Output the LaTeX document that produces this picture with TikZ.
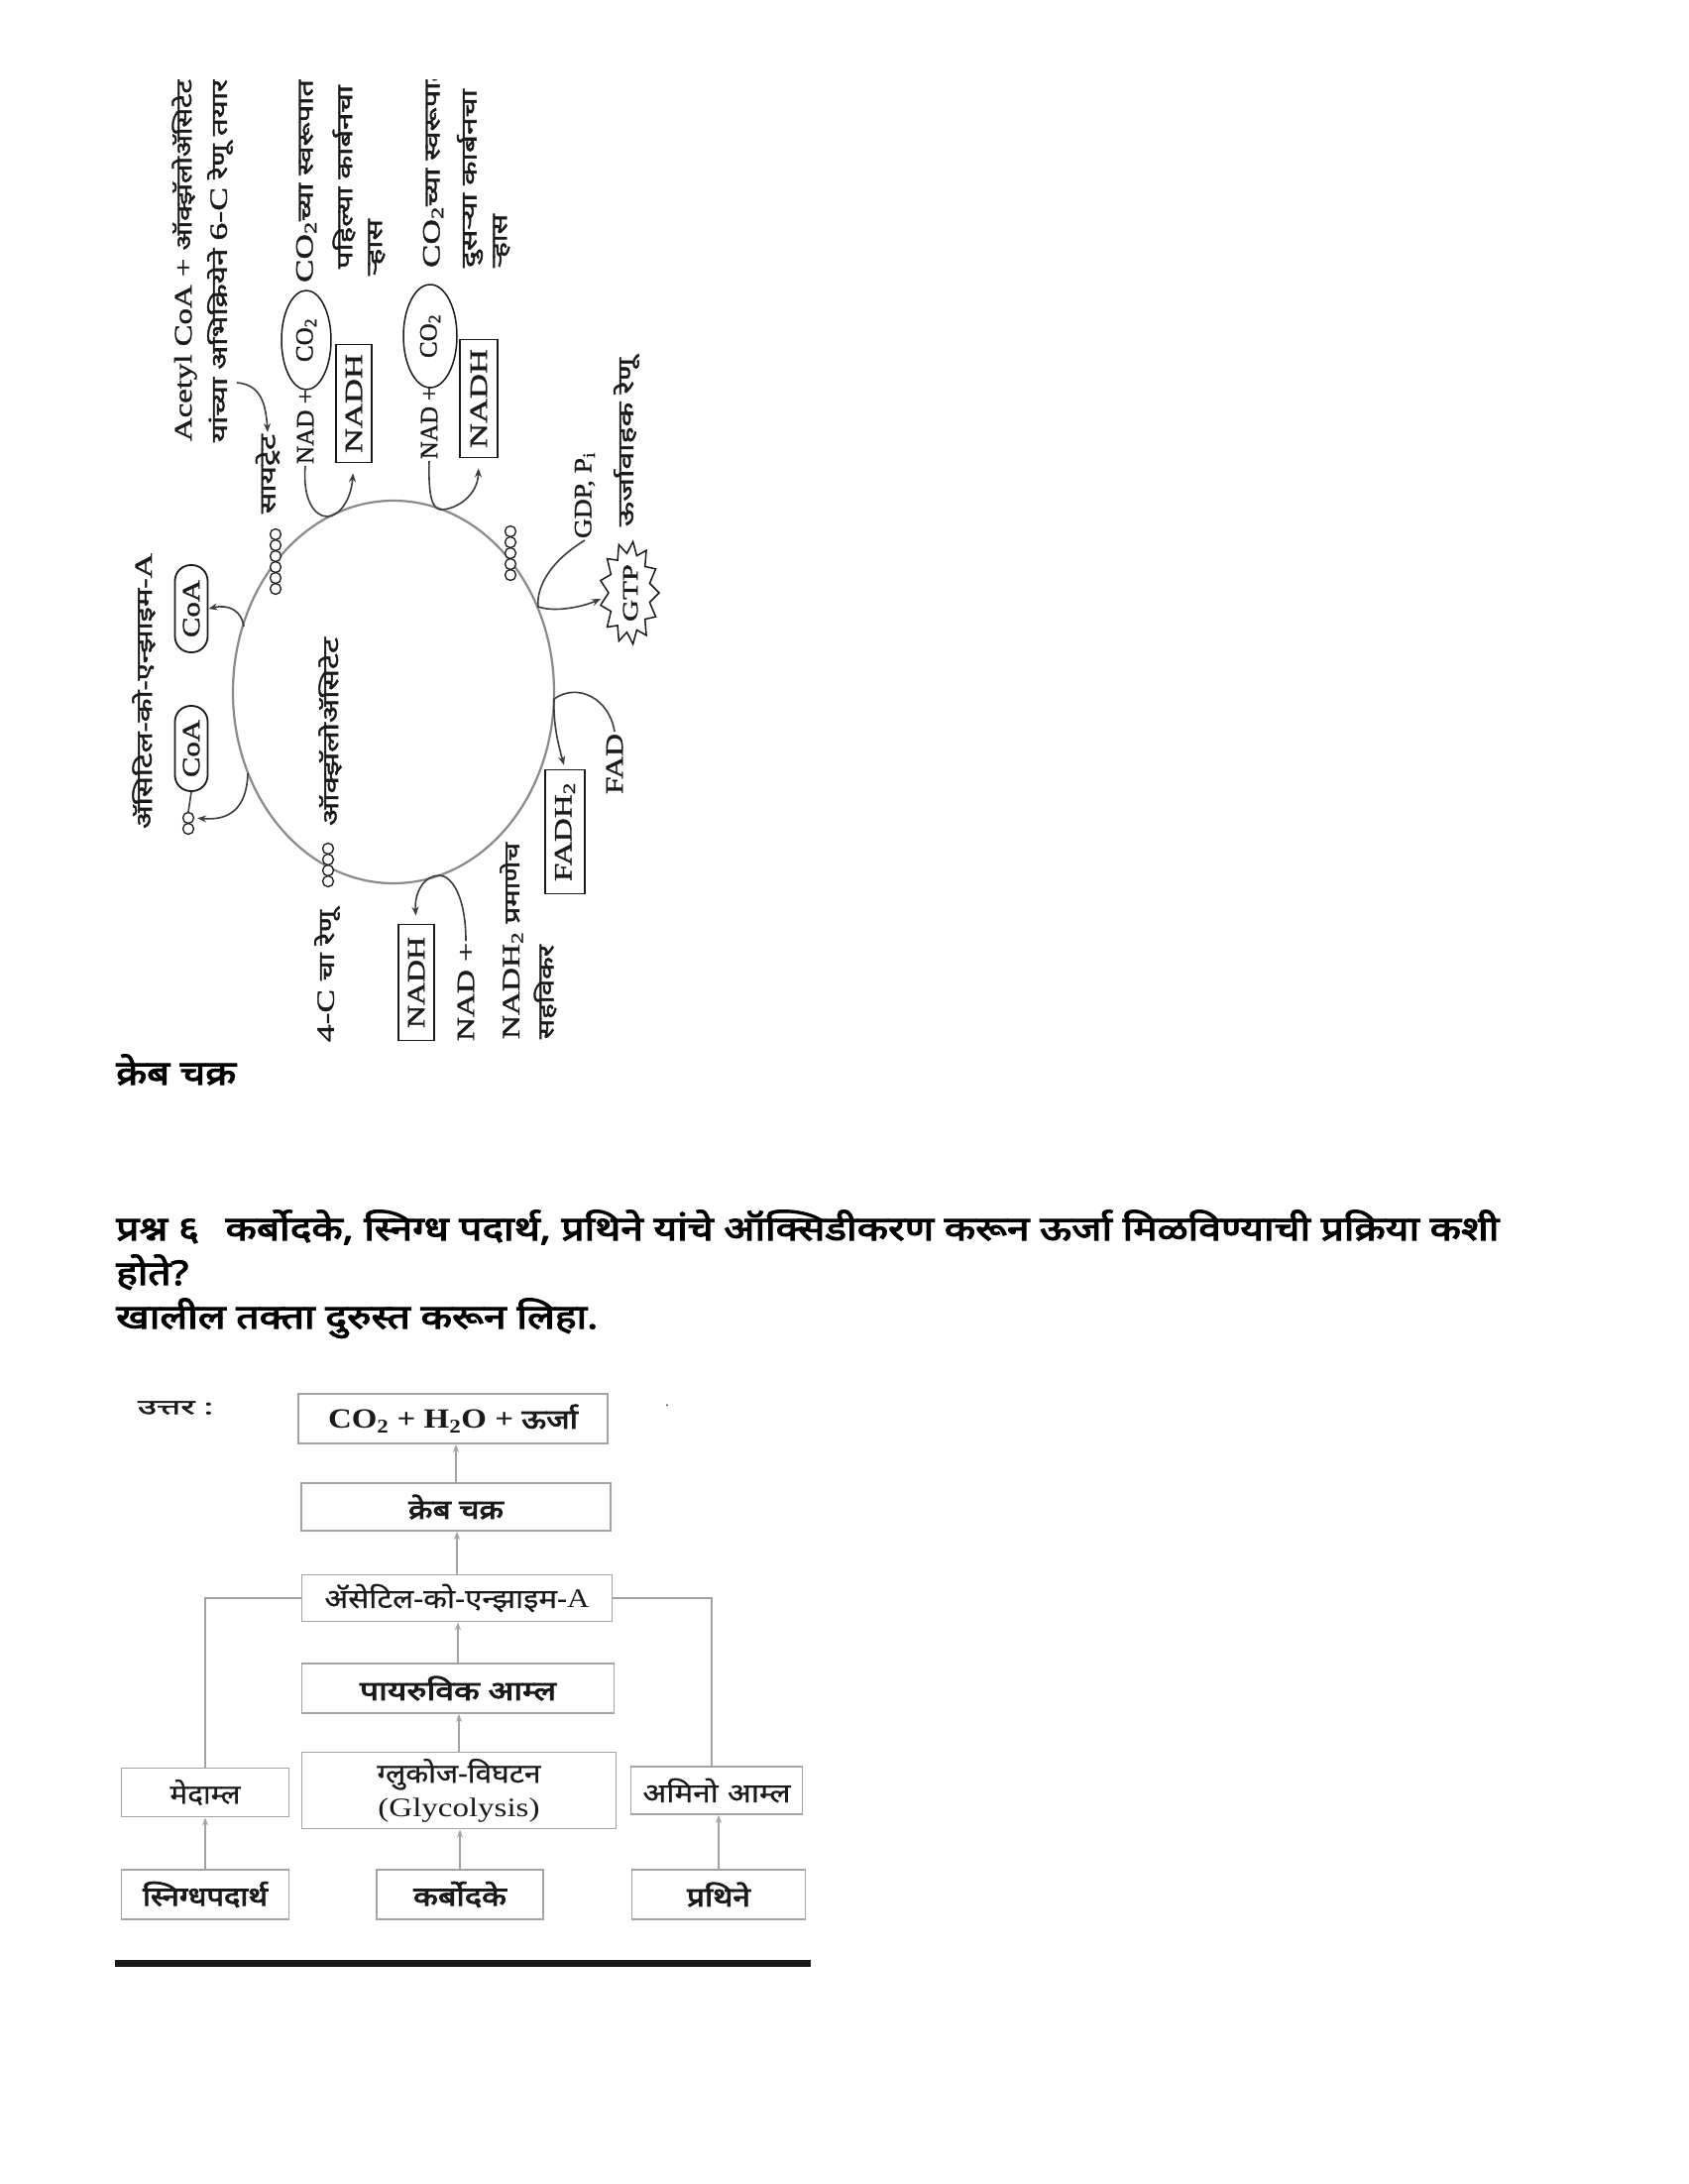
\documentclass[tikz,border=0pt]{standalone}
\usepackage{fontspec}
\usepackage{graphicx}
\setmainfont{Liberation Serif}
\newfontfamily\dev[Script=Devanagari, FakeBold=0.6]{Noto Sans}
\newfontfamily\devm[Script=Devanagari, FakeBold=1.8]{Noto Sans}
\newfontfamily\devb[Script=Devanagari, FakeBold=3]{Noto Sans}
\newfontfamily\lat{Liberation Serif}
\newfontfamily\latm[FakeBold=1.2]{Liberation Serif}
\usetikzlibrary{arrows.meta,shapes.geometric,calc}
\definecolor{ink}{HTML}{1A1A1A}
\definecolor{cgray}{HTML}{8A8A8A}
\definecolor{fgray}{HTML}{A3A3A3}
\newcommand\fitw[2]{\resizebox{#1pt}{\height}{#2}}
\newcommand\cl{\latm\fontsize{25}{28}\selectfont}
\newcommand\cd{\devm\fontsize{22}{24}\selectfont}
\newcommand\fl{\lat\fontsize{27}{30}\selectfont}
\newcommand\flb{\lat\bfseries\fontsize{28}{30}\selectfont}
\newcommand\fd{\dev\fontsize{27}{30}\selectfont}
\newcommand\fdb{\devb\fontsize{27}{30}\selectfont}
\newcommand\qf{\devb\fontsize{34}{38}\selectfont}
\tikzset{
  rt/.style={rotate=90, anchor=west, inner sep=0pt, outer sep=2pt, text=ink},
  rbox/.style={draw=ink, line width=1.8pt, rotate=90, inner sep=0pt, text=ink},
  arr/.style={draw=ink!85, line width=1.6pt, -{Stealth[length=9pt,width=7pt]}},
  plainc/.style={draw=ink!85, line width=1.6pt},
  bead/.style={circle, draw=ink, line width=1.3pt, fill=white, minimum size=11pt, inner sep=0pt},
  fbox/.style={draw=fgray, line width=1.8pt, inner sep=0pt, text=ink},
  farr/.style={draw=fgray, line width=1.4pt, -{Stealth[length=8pt,width=6pt]}},
  fline/.style={draw=fgray, line width=1.4pt},
}
\begin{document}
\begin{tikzpicture}[x=1pt,y=-1pt]
\useasboundingbox (0,0) rectangle (1703,2203);
\fill[white] (0,0) rectangle (1703,2203);

\begin{scope}
\clip (0,80) rectangle (1703,1110);
% cycle
\draw[cgray, line width=2.2pt] (397,698) ellipse [x radius=162pt, y radius=193pt];
\coordinate (jN1) at (330,521);
\coordinate (jN2) at (445,514);
\coordinate (jG) at (543,612);
\coordinate (jF) at (559,705);
\coordinate (jN3) at (443,883);
\coordinate (jC1) at (246,632);
\coordinate (jC2) at (250,780);
\coordinate (acs) at (239,386);
\coordinate (gtpL) at (606,604);

% texts
\node[rt] (t1) at (186,447) {\fitw{365}{\cl Acetyl CoA + {\cd ऑक्झॅलोॲसिटेट}}};
\node[rt] (t2) at (222,448) {\fitw{366}{\cd यांच्या अभिक्रियेने {\cl 6-C} रेणू तयार}};
\node[rt] (sit) at (270,520) {\fitw{80}{\cd सायट्रेट}};
\node[rt] (nad1) at (308,470) {\fitw{75}{\cl NAD +}};
\node[rbox, ellipse, line width=1.5pt, minimum width=100pt, minimum height=50pt] (co2a) at (309,343) {\cl CO\textsubscript{2}};
\node[rt] (co2ta) at (309,287) {\fitw{205}{\cl CO\textsubscript{2}{\cd च्या स्वरूपात}}};
\node[rbox, minimum width=119pt, minimum height=36pt] (nadh1) at (357,407) {\fitw{100}{\cl NADH}};
\node[rt] (pah) at (347,273) {\fitw{185}{\cd पहिल्या कार्बनचा}};
\node[rt] (rh1) at (380,280) {\fitw{57}{\cd ऱ्हास}};
\node[rt] (nad2) at (433,465) {\fitw{73}{\cl NAD +}};
\node[rbox, ellipse, line width=1.5pt, minimum width=104pt, minimum height=54pt] (co2b) at (434,339) {\cl CO\textsubscript{2}};
\node[rt] (co2tb) at (437,272) {\fitw{205}{\cl CO\textsubscript{2}{\cd च्या स्वरूपात}}};
\node[rbox, minimum width=119pt, minimum height=38pt] (nadh2) at (483,402) {\fitw{100}{\cl NADH}};
\node[rt] (dus) at (474,272) {\fitw{180}{\cd दुसऱ्या कार्बनचा}};
\node[rt] (rh2) at (506,272) {\fitw{54}{\cd ऱ्हास}};
\node[rt] (gdp) at (590,545) {\fitw{87}{\cl GDP, P\textsubscript{i}}};
\node[rt] (urja) at (632,533) {\fitw{170}{\cd ऊर्जावाहक रेणू}};
\node[rt] (acoa) at (145,838) {\fitw{278}{\cd ॲसिटिल-को-एन्झाइम-{\cl A}}};
\node[rbox, rounded corners=16pt, minimum width=88pt, minimum height=33pt] (coa1) at (193,614) {\fitw{58}{\cl CoA}};
\node[rbox, rounded corners=16pt, minimum width=86pt, minimum height=33pt] (coa2) at (193,755) {\fitw{58}{\cl CoA}};
\node[rt] (oxa) at (333,835) {\fitw{190}{\cd ऑक्झॅलोॲसिटेट}};
\node[rt] (fourc) at (330,1053) {\fitw{133}{\cl 4-C {\cd चा रेणू}}};
\node[rbox, minimum width=117pt, minimum height=36pt] (nadh3) at (420,991) {\fitw{92}{\cl NADH}};
\node[rt] (nad3) at (470,1052) {\fitw{99}{\cl NAD +}};
\node[rt] (nadhp) at (516,1050) {\fitw{198}{\cl NADH\textsubscript{2} {\cd प्रमाणेच}}};
\node[rt] (sah) at (550,1050) {\fitw{95}{\cd सहविकर}};
\node[rbox, minimum width=125pt, minimum height=40pt] (fadh2) at (570,839) {\fitw{100}{\cl FADH\textsubscript{2}}};
\node[rt] (fad) at (620,803) {\fitw{61}{\cl FAD}};

% GTP star
\draw[ink, line width=1.5pt, fill=white] (665,598)
  \foreach \k in {1,...,25}{ -- ({635+ifthenelse(isodd(\k),21,30)*cos(\k*360/26)}, {598+ifthenelse(isodd(\k),40,52)*sin(\k*360/26)}) } -- cycle;
\node[rotate=90, inner sep=0pt, text=ink] (gtp) at (636,598) {\fitw{58}{\latm\fontsize{22}{24}\selectfont GTP}};

% connectors
\draw[arr] (acs) .. controls (262,388) and (268,405) .. (sit.east);
\draw[arr, shorten >=10pt] (nad1.west) .. controls (305,505) and (318,521) .. (jN1) .. controls (342,521) and (354,505) .. (nadh1.west);
\draw[arr, shorten >=10pt] (nad2.west) .. controls (432,500) and (436,514) .. (jN2) .. controls (460,514) and (482,500) .. (nadh2.west);
\draw[arr] (gdp.west) .. controls (552,568) and (541,595) .. (jG) .. controls (560,618) and (588,612) .. (gtpL);
\draw[arr, shorten >=4pt] (fad.east) .. controls (615,705) and (583,688) .. (jF) .. controls (558,730) and (563,750) .. (fadh2.east);
\draw[arr, shorten >=8pt] (nad3.east) .. controls (470,905) and (456,883) .. (jN3) .. controls (428,883) and (418,900) .. (nadh3.east);
\draw[arr] (jC1) .. controls (244,617) and (232,609) .. (coa1.south);

% beads
\foreach \i in {0,...,5} \node[bead] (six\i) at (278,{539+11*\i}) {};
\foreach \i in {0,...,4} \node[bead] (five\i) at (515,{536+11*\i}) {};
\foreach \i in {0,...,3} \node[bead] (four\i) at (331,{856+11*\i}) {};
\foreach \i in {0,1} \node[bead] (oo\i) at (190,{825+11*\i}) {};
\draw[plainc] (coa2.west) -- (oo0.north);
\draw[arr, shorten >=3pt] (jC2) .. controls (249,815) and (232,828) .. (oo0.east);
\end{scope}

% captions and question
\node[anchor=base west, inner sep=0pt] (cap) at (117,1094) {\fitw{121}{\qf क्रेब चक्र}};
\node[anchor=base west, inner sep=0pt] (q1) at (117,1251) {\fitw{1395}{\qf प्रश्न ६\hspace{22pt}कर्बोदके, स्निग्ध पदार्थ, प्रथिने यांचे ऑक्सिडीकरण करून ऊर्जा मिळविण्याची प्रक्रिया कशी}};
\node[anchor=base west, inner sep=0pt] (q2) at (117,1296) {\fitw{73}{\qf होते?}};
\node[anchor=base west, inner sep=0pt] (q3) at (117,1340) {\fitw{486}{\qf खालील तक्ता दुरुस्त करून लिहा.}};

% flowchart
\node[inner sep=0pt, text=ink] (uttar) at (177,1420) {\fitw{76}{\devm\fontsize{21}{22}\selectfont उत्तर :}};
\node[inner sep=0pt, text=ink!80] (dot) at (673,1418) {\lat\fontsize{16}{18}\selectfont .};
\node[fbox, minimum width=312pt, minimum height=50pt] (f1) at (457,1431) {\fitw{252}{\flb CO\textsubscript{2} + H\textsubscript{2}O + {\fdb ऊर्जा}}};
\node[fbox, minimum width=312pt, minimum height=48pt] (f2) at (460,1520) {\fitw{96}{\fdb क्रेब चक्र}};
\node[fbox, minimum width=313pt, minimum height=47pt] (f3) at (461,1612) {\fitw{267}{\fd ॲसेटिल-को-एन्झाइम-{\fl A}}};
\node[fbox, minimum width=315pt, minimum height=50pt] (f4) at (462,1703) {\fitw{198}{\fdb पायरुविक आम्ल}};
\node[fbox, minimum width=317pt, minimum height=77pt, align=center] (f5) at (463,1806) {\fitw{165}{\fd ग्लुकोज-विघटन}\\[7pt]\fitw{163}{\fl (Glycolysis)}};
\node[fbox, minimum width=169pt, minimum height=49pt] (fmed) at (207,1808) {\fitw{71}{\fd मेदाम्ल}};
\node[fbox, minimum width=173pt, minimum height=48pt] (famino) at (723,1806) {\fitw{149}{\fd अमिनो\hspace{8pt}आम्ल}};
\node[fbox, minimum width=169pt, minimum height=50pt] (fsnig) at (207,1911) {\fitw{126}{\fdb स्निग्धपदार्थ}};
\node[fbox, minimum width=168pt, minimum height=50pt] (fkarb) at (464,1911) {\fitw{94}{\fdb कर्बोदके}};
\node[fbox, minimum width=175pt, minimum height=50pt] (fprath) at (725,1911) {\fitw{64}{\fdb प्रथिने}};

\draw[farr] (f2.north) -- (f2.north |- f1.south);
\draw[farr] (f3.north) -- (f3.north |- f2.south);
\draw[farr] (f4.north) -- (f4.north |- f3.south);
\draw[farr] (f5.north) -- (f5.north |- f4.south);
\draw[farr] (fkarb.north) -- (fkarb.north |- f5.south);
\draw[farr] (fsnig.north) -- (fmed.south);
\draw[farr] (fprath.north) -- (fprath.north |- famino.south);
\draw[fline] (fmed.north) |- (f3.west);
\draw[fline] ([xshift=-5pt]famino.north) |- (f3.east);

\coordinate (rl) at (116,1980);
\coordinate (rr) at (818,1980);
\draw[ink, line width=7pt] (rl) -- (rr);
\end{tikzpicture}
\end{document}
